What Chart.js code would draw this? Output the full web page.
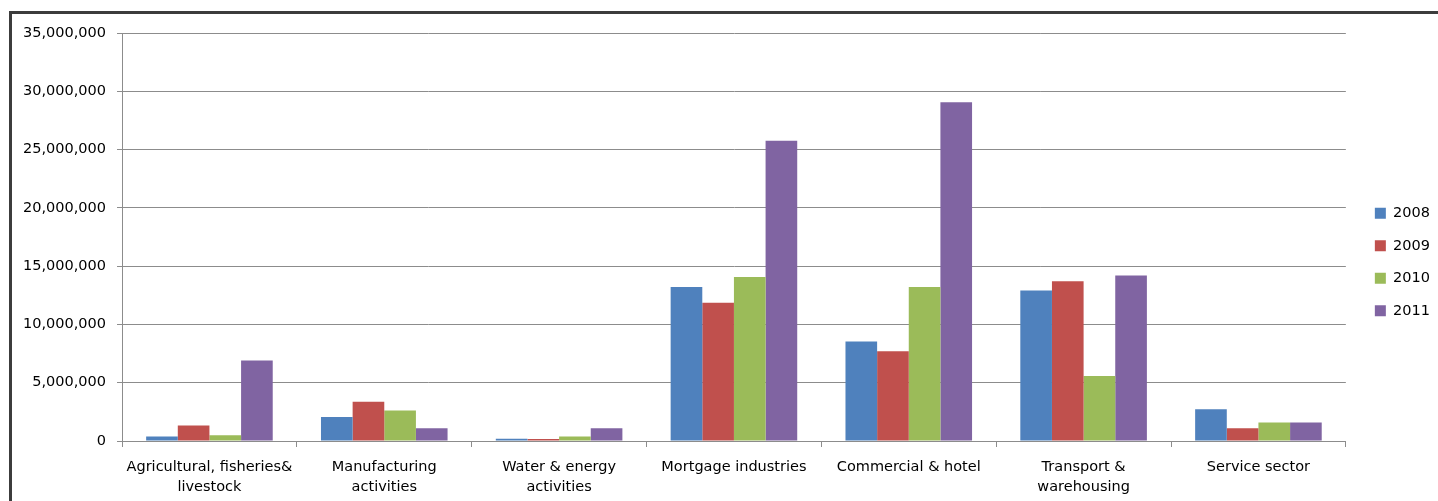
<!DOCTYPE html>
<html>
<head>
<meta charset="utf-8">
<script src="https://cdn.jsdelivr.net/npm/chart.js@4/dist/chart.umd.min.js"></script>
<style>
  html, body { margin: 0; padding: 0; background: #fff; overflow: hidden; }
  #wrap { position: relative; width: 1438px; height: 501px; }
  #frame {
    position: absolute; left: 9px; top: 11px; width: 1460px; height: 520px;
    border-left: 3px solid #3c3c3c; border-top: 3px solid #3c3c3c;
  }
  #chart { position: absolute; left: 0; top: 0; }
</style>
</head>
<body>
<div id="wrap">
  <div id="frame"></div>
  <canvas id="chart" width="1438" height="501"></canvas>
</div>
<script>
const categories = [
  ['Agricultural, fisheries&', 'livestock'],
  ['Manufacturing', 'activities'],
  ['Water & energy', 'activities'],
  'Mortgage industries',
  'Commercial & hotel',
  ['Transport &', 'warehousing'],
  'Service sector',
];
const years = ['2008', '2009', '2010', '2011'];
const values2008 = [390000, 2050000, 190000, 13220000, 8530000, 12910000, 2730000];
const values2009 = [1330000, 3370000, 180000, 11850000, 7700000, 13710000, 1100000];
const values2010 = [500000, 2620000, 390000, 14060000, 13220000, 5570000, 1590000];
const values2011 = [6900000, 1100000, 1100000, 25750000, 29050000, 14200000, 1590000];
const yMax = 35000000;
const yStep = 5000000;

const colors = ['#4F81BD', '#C0504D', '#9BBB59', '#8064A2'];
const gridColor = '#8c8c8c';

Chart.defaults.font.family = "'DejaVu Sans', sans-serif";
Chart.defaults.font.size = 14.5;
Chart.defaults.color = '#000';

// nudge the legend to where Excel put it
const legendOffset = {
  id: 'legendOffset',
  afterLayout(chart) {
    const lg = chart.legend;
    if (!lg || lg.shiftWrapped) return;
    const draw = lg.draw;
    lg.draw = function (...args) {
      const dx = 11;
      const dy = -8;
      this.left += dx; this.right += dx; this.top += dy; this.bottom += dy;
      draw.apply(this, args);
      this.left -= dx; this.right -= dx; this.top -= dy; this.bottom -= dy;
    };
    lg.shiftWrapped = true;
  },
};

const seriesValues = [values2008, values2009, values2010, values2011];

const ctx = document.getElementById('chart');
const chart = new Chart(ctx, {
  type: 'bar',
  data: {
    labels: categories,
    datasets: years.map((year, i) => ({
      label: year,
      data: seriesValues[i],
      backgroundColor: colors[i],
      borderWidth: 0,
      barPercentage: 1,
      categoryPercentage: 0.724,
    })),
  },
  options: {
    responsive: false,
    animation: false,
    layout: {
      padding: { left: 12, top: 33, right: 9, bottom: -6 },
    },
    plugins: {
      tooltip: { enabled: false },
      legend: {
        position: 'right',
        labels: {
          boxWidth: 11,
          boxHeight: 11,
          padding: 18,
          font: { size: 14.5 },
        },
      },
    },
    scales: {
      x: {
        grid: {
          drawOnChartArea: false,
          drawTicks: true,
          tickLength: 6,
          color: gridColor,
        },
        border: { color: gridColor, width: 1 },
        ticks: {
          autoSkip: false,
          maxRotation: 0,
          padding: 10,
          font: { lineHeight: '20px' },
        },
      },
      y: {
        min: 0,
        max: yMax,
        grid: {
          color: gridColor,
          tickLength: 5,
        },
        border: { color: gridColor, width: 1 },
        ticks: {
          stepSize: yStep,
          padding: 11,
          callback: (v) => v.toLocaleString('en-US'),
        },
      },
    },
  },
  plugins: [legendOffset],
});
</script>
</body>
</html>
